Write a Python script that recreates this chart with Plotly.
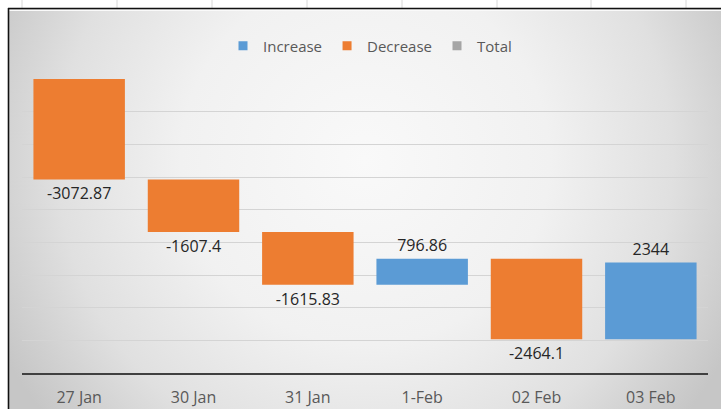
import base64
import plotly.graph_objects as go

# ---- data ----
categories = ["27 Jan", "30 Jan", "31 Jan", "1-Feb", "02 Feb", "03 Feb"]
changes = [-3072.87, -1607.4, -1615.83, 796.86, -2464.1, 2344]
start_level = 9000
legend_names = ["Increase", "Decrease", "Total"]
legend_colors = ["#5B9BD5", "#ED7D31", "#A5A5A5"]

W, H = 721, 409
ML, MR, MT, MB = 22, 13, 79, 36
PW, PH = W - ML - MR, H - MT - MB

# background (Excel-like radial gradient chart area inside a sheet screenshot)
col_lines = "".join(
    f'<line x1="{x}" y1="0" x2="{x}" y2="8" stroke="#d8d8d8" stroke-width="1"/>'
    for x in [22, 117, 212, 307, 402, 497, 591, 686]
)
svg = f'''<svg xmlns="http://www.w3.org/2000/svg" width="{W}" height="{H}" viewBox="0 0 {W} {H}">
<defs><radialGradient id="g" gradientUnits="userSpaceOnUse" cx="365" cy="160" r="410">
<stop offset="0" stop-color="#f9f9f9"/>
<stop offset="0.45" stop-color="#f1f1f1"/>
<stop offset="0.75" stop-color="#e0e0e0"/>
<stop offset="1" stop-color="#c6c6c6"/>
</radialGradient></defs>
<rect width="{W}" height="{H}" fill="#ffffff"/>
{col_lines}
<rect x="9" y="9" width="{W-9}" height="{H-9}" fill="url(#g)"/>
<line x1="9" y1="10.5" x2="{W}" y2="10.5" stroke="#fafafa" stroke-width="1"/>
<line x1="8" y1="8.5" x2="{W}" y2="8.5" stroke="#111111" stroke-width="1.6"/>
<line x1="8.5" y1="8" x2="8.5" y2="{H}" stroke="#111111" stroke-width="1.6"/>
</svg>'''
src = "data:image/svg+xml;base64," + base64.b64encode(svg.encode()).decode()

fig = go.Figure()
fig.add_trace(go.Waterfall(
    x=categories,
    y=changes,
    base=start_level,
    measure=["relative"] * len(changes),
    text=[f"{v:g}" for v in changes],
    textposition="outside",
    textfont=dict(family="Open Sans", size=16, color="#262626"),
    increasing=dict(marker=dict(color=legend_colors[0])),
    decreasing=dict(marker=dict(color=legend_colors[1])),
    totals=dict(marker=dict(color=legend_colors[2])),
    connector=dict(visible=False),
    cliponaxis=False,
    showlegend=False,
    hoverinfo="skip",
))
for name, color in zip(legend_names, legend_colors):
    fig.add_trace(go.Scatter(
        x=[None], y=[None], mode="markers", name=name,
        marker=dict(symbol="square", size=9, color=color),
    ))

fig.update_layout(
    width=W, height=H, autosize=False,
    margin=dict(l=ML, r=MR, t=MT, b=MB, pad=0),
    paper_bgcolor="#ffffff",
    plot_bgcolor="rgba(0,0,0,0)",
    bargap=0.2,
    font=dict(family="Open Sans", color="#595959"),
    legend=dict(
        orientation="h", x=0.5 + 5 / PW, xanchor="center", y=(PH + MT - 46) / PH, yanchor="middle",
        font=dict(family="Open Sans", size=15, color="#595959"),
        bgcolor="rgba(0,0,0,0)", itemwidth=30,
    ),
    images=[dict(
        source=src, xref="paper", yref="paper",
        x=-ML / PW, y=1 + MT / PH, sizex=W / PW, sizey=H / PH,
        xanchor="left", yanchor="top", sizing="stretch", layer="below",
    )],
    xaxis=dict(
        type="category", categoryorder="array", categoryarray=categories,
        showgrid=False, showline=True, linecolor="#404040", linewidth=2,
        ticks="outside", ticklen=9, tickcolor="rgba(0,0,0,0)",
        tickfont=dict(family="Open Sans", size=16, color="#595959"),
        automargin=False, fixedrange=True,
    ),
    yaxis=dict(
        range=[0, start_level], dtick=1000, showticklabels=False,
        showgrid=True, gridcolor="#d4d4d4", gridwidth=1,
        zeroline=False, automargin=False, fixedrange=True,
    ),
)

fig.write_html(
    "out.html",
    config={"displayModeBar": False, "responsive": False},
    post_script="document.body.style.margin='0';document.body.style.overflow='hidden';",
)
